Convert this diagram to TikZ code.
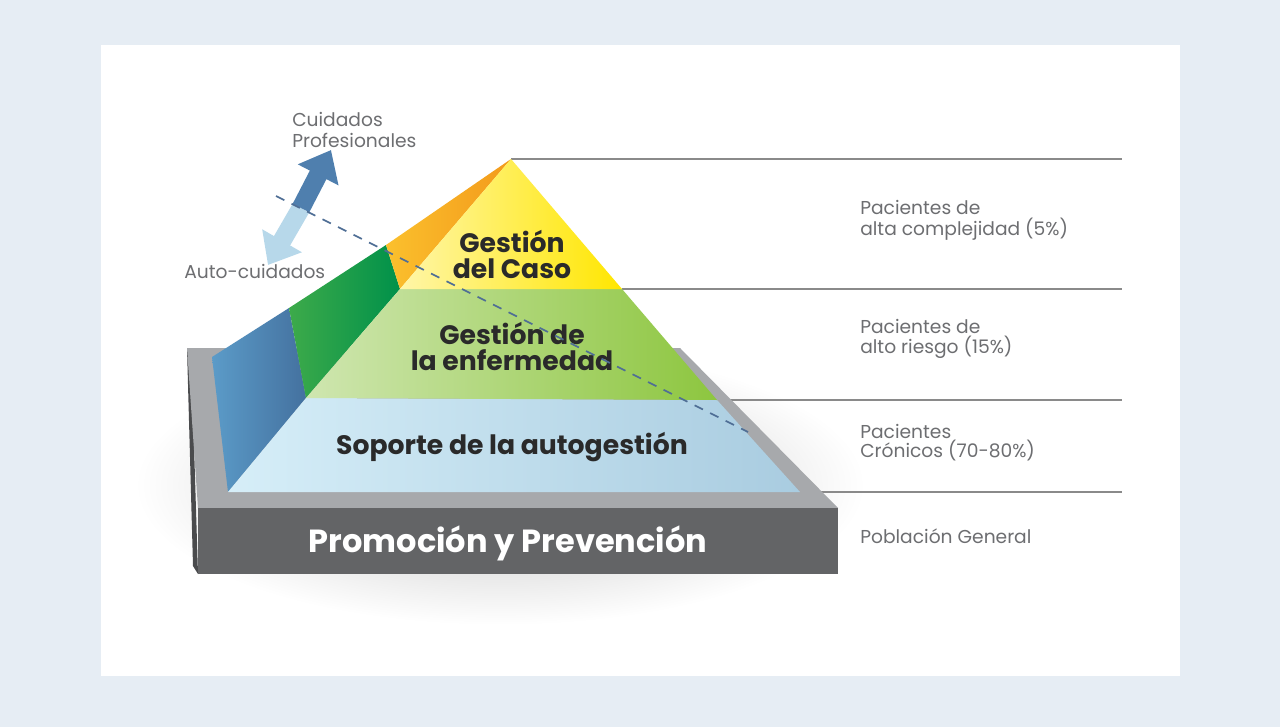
\documentclass[tikz,border=0pt]{standalone}
\usepackage{fontspec}
\setmainfont{Poppins}
\usetikzlibrary{arrows.meta}
\definecolor{bgc}{HTML}{E6EDF4}
\definecolor{labc}{HTML}{6D6E71}
\definecolor{darkt}{HTML}{2A2A2A}
\definecolor{rim}{HTML}{A7A9AC}
\definecolor{basec}{HTML}{636466}
\definecolor{sidec}{HTML}{4A4B4D}
\definecolor{linec}{HTML}{8A8A8A}
\definecolor{dashc}{HTML}{4F6E95}
\definecolor{arrup}{HTML}{4F7FAE}
\definecolor{arrdn}{HTML}{B7D8EA}
\definecolor{blueL}{HTML}{5B9BC8}
\definecolor{blueR}{HTML}{44719F}
\definecolor{dgreenL}{HTML}{3DAA4A}
\definecolor{dgreenR}{HTML}{00914A}
\definecolor{orL}{HTML}{FBC02D}
\definecolor{orR}{HTML}{F39A1B}
\definecolor{lblueL}{HTML}{D6EEF8}
\definecolor{lblueR}{HTML}{A9CCE0}
\definecolor{lgreenL}{HTML}{CFE6B0}
\definecolor{lgreenR}{HTML}{8DC63F}
\definecolor{yelL}{HTML}{FFF6A8}
\definecolor{yelR}{HTML}{FFE600}
\tikzset{
  sidelab/.style={text=labc, font=\fontsize{14pt}{15.5pt}\selectfont, align=left, anchor=west, inner sep=0pt},
  tierlab/.style={text=darkt, font=\fontsize{20pt}{19.5pt}\selectfont\bfseries, align=center, inner sep=0pt},
  levelline/.style={draw=linec, line width=1.4pt},
  bigarrow/.style={line width=14pt, -{Triangle[width=33pt,length=21pt]}},
}
\begin{document}
\begin{tikzpicture}[x=0.75pt,y=-0.75pt]
% background and card
\fill[bgc] (0,0) rectangle (1280,727);
\fill[white] (101,45) rectangle (1180,676);
% shadow
\shade[inner color=gray!50, outer color=white] (500,485) ellipse [x radius=365, y radius=140];
% level lines
\coordinate (apex) at (511,159);
\coordinate (l1a) at (511,159);  \coordinate (l1b) at (1122,159);
\coordinate (l2a) at (622,289);  \coordinate (l2b) at (1122,289);
\coordinate (l3a) at (717,400);  \coordinate (l3b) at (1122,400);
\coordinate (l4a) at (800,492);  \coordinate (l4b) at (1122,492);
\draw[levelline] (l1a) -- (l1b);
\draw[levelline] (l2a) -- (l2b);
\draw[levelline] (l3a) -- (l3b);
\draw[levelline] (l4a) -- (l4b);
% base
\fill[sidec] (187,348) -- (191,348) -- (198,574) -- (193,566) -- cycle;
\fill[rim] (187,348) -- (680,348) -- (838,508) -- (198,508) -- cycle;
\fill[basec] (198,508) rectangle (838,574);
% pyramid side faces
\shade[left color=blueL, right color=blueR] (212,357) -- (289,308) -- (306,398) -- (228,492) -- cycle;
\shade[left color=dgreenL, right color=dgreenR] (289,308) -- (386,245) -- (400,289) -- (306,398) -- cycle;
\shade[left color=orL, right color=orR] (386,245) -- (511,159) -- (400,289) -- cycle;
% front faces
\shade[left color=lblueL, right color=lblueR] (306,398) -- (717,400) -- (800,492) -- (228,492) -- cycle;
\shade[left color=lgreenL, right color=lgreenR] (400,289) -- (622,289) -- (717,400) -- (306,398) -- cycle;
\shade[left color=yelL, right color=yelR] (511,159) -- (622,289) -- (400,289) -- cycle;
% tier labels
\node[tierlab] (caso) at (512,254) {Gestión\\del Caso};
\node[tierlab] (enf) at (512,346) {Gestión de\\la enfermedad};
\node[tierlab] (sop) at (512,447) {Soporte de la autogestión};
\node[text=white, font=\fontsize{24pt}{26pt}\selectfont\bfseries, inner sep=0pt] (prom) at (508,543) {Promoción y Prevención};
% right labels
\node[sidelab] (r1) at (860,220) {Pacientes de\\alta complejidad (5\%)};
\node[sidelab] (r2) at (860,339) {Pacientes de\\alto riesgo (15\%)};
\node[sidelab, font=\fontsize{14pt}{14.3pt}\selectfont] (r3) at (860,443) {Pacientes\\Crónicos (70-80\%)};
\node[sidelab] (r4) at (860,536) {Población General};
% left labels
\node[sidelab] (prof) at (292,130) {Cuidados\\Profesionales};
\node[sidelab] (auto) at (184,271) {Auto-cuidados};
% arrows
\coordinate (amid) at (301,208);
\coordinate (aup) at (331,150);
\coordinate (adn) at (268,265);
\draw[bigarrow, draw=arrdn, fill=arrdn] (amid) -- (adn);
\draw[bigarrow, draw=arrup, fill=arrup] (amid) -- (aup);
% dashed line
\coordinate (d1) at (276,196);
\coordinate (d2) at (748,432);
\draw[dashc, line width=1.3pt, dash pattern=on 7pt off 6pt] (d1) -- (d2);
\end{tikzpicture}
\end{document}
